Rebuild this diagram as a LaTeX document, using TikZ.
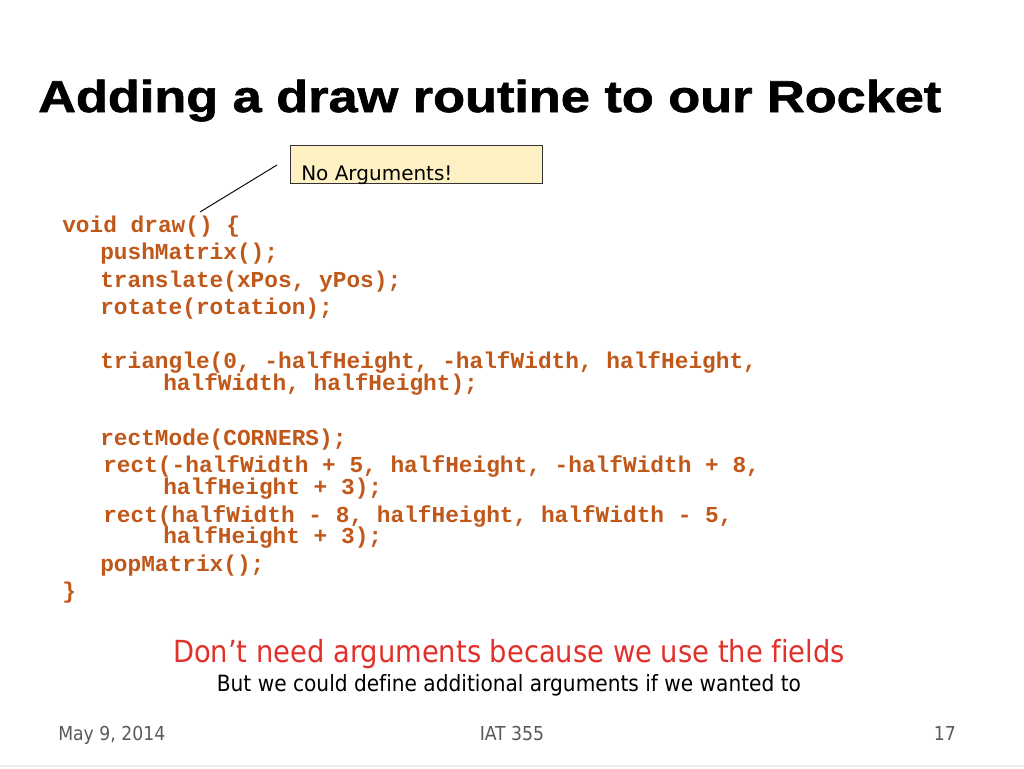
\documentclass[tikz,border=0pt]{standalone}
\usepackage{fontspec}
\setmainfont{Liberation Sans}
\newfontfamily\codefont{Liberation Mono}
\newfontfamily\tahoma[Ligatures=NoCommon]{DejaVu Sans Condensed}
\newfontfamily\verdana{DejaVu Sans}
\newfontfamily\titlefont[FakeBold=1.5,FakeStretch=1.17]{Liberation Sans Bold}
\definecolor{codeor}{HTML}{C0581A}
\definecolor{redtxt}{HTML}{E2302A}
\definecolor{callfill}{HTML}{FDF1C3}
\definecolor{footgray}{HTML}{595959}
\tikzset{
  code/.style={anchor=base west, inner sep=0pt, text=codeor, font=\codefont\bfseries\fontsize{17.1pt}{18pt}\selectfont},
  foot/.style={anchor=base, inner sep=0pt, text=footgray, font=\tahoma\fontsize{14.4pt}{16pt}\selectfont},
}
\begin{document}
\begin{tikzpicture}[x=0.75pt,y=-0.75pt]
\useasboundingbox (0,0) rectangle (1024,768);
\fill[white] (0,0) rectangle (1024,768);
% title
\node[anchor=base west, inner sep=0pt, font=\titlefont\fontsize{33.5pt}{36pt}\selectfont] (title) at (38,112) {Adding a draw routine to our Rocket};
% callout
\node[draw=black!80, fill=callfill, line width=0.8pt, minimum width=252*0.75pt, minimum height=38*0.75pt, inner sep=0pt, anchor=north west] (call) at (290,145) {};
\node[anchor=base west, inner sep=0pt, font=\verdana\fontsize{15pt}{16pt}\selectfont] (calltext) at (301,180) {No Arguments!};
\coordinate (cstart) at (277,165);
\coordinate (cend) at (200,212);
\draw[line width=0.7pt] (cstart) -- (cend);
% code
\node[code] (c1) at (62,232) {void draw() \{};
\node[code] (c2) at (100,259) {pushMatrix();};
\node[code] (c3) at (100,287) {translate(xPos, yPos);};
\node[code] (c4) at (100,314) {rotate(rotation);};
\node[code] (c5) at (100,368) {triangle(0, -halfHeight, -halfWidth, halfHeight,};
\node[code] (c6) at (163,390) {halfWidth, halfHeight);};
\node[code] (c7) at (100,445) {rectMode(CORNERS);};
\node[code] (c8) at (103,472) {rect(-halfWidth + 5, halfHeight, -halfWidth + 8,};
\node[code] (c9) at (163,494) {halfHeight + 3);};
\node[code] (c10) at (103,522) {rect(halfWidth - 8, halfHeight, halfWidth - 5,};
\node[code] (c11) at (163,543) {halfHeight + 3);};
\node[code] (c12) at (100,571) {popMatrix();};
\node[code] (c13) at (62,598) {\}};
% notes
\node[anchor=base, inner sep=0pt, text=redtxt, font=\tahoma\fontsize{22.8pt}{24pt}\selectfont] (note1) at (509,662) {Don’t need arguments because we use the fields};
\node[anchor=base, inner sep=0pt, font=\tahoma\fontsize{16.8pt}{18pt}\selectfont] (note2) at (509,691) {But we could define additional arguments if we wanted to};
% footer
\node[foot, anchor=base west] (date) at (58,740) {May 9, 2014};
\node[foot] (course) at (512,740) {IAT 355};
\node[foot, anchor=base east] (page) at (956,740) {17};
\draw[black!8, line width=1pt] (0,766) -- (1024,766);
\end{tikzpicture}
\end{document}
